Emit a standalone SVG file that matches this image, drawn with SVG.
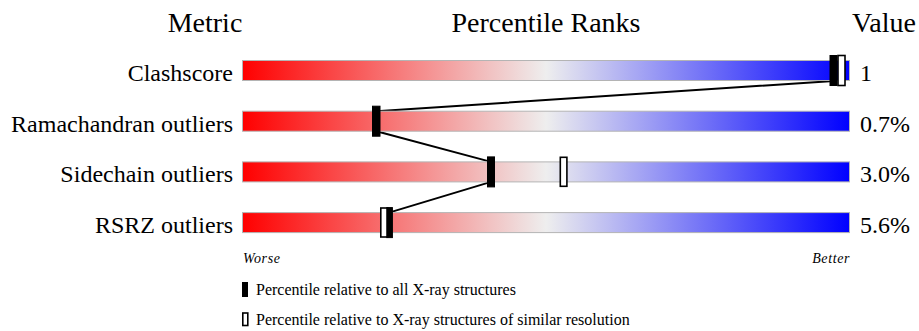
<svg xmlns="http://www.w3.org/2000/svg" width="919" height="331" viewBox="0 0 919 331">
<style>
text{font-family:"Liberation Serif","Times New Roman",serif;fill:#000}
.hd{font-size:28px}
.lb{font-size:24px;text-anchor:end}
.vl{font-size:24px}
.it{font-size:14px;font-style:italic;letter-spacing:0.6px}
.lg{font-size:16px}
.bar{fill:url(#grad);stroke:#b4b4b4;stroke-width:1}
.blk{fill:#000;stroke:#000;stroke-width:1}
.opn{fill:#fff;stroke:#000;stroke-width:1.6}
.ln{stroke:#000;stroke-width:2;fill:none}
</style>
<defs>
<linearGradient id="grad" x1="0" y1="0" x2="1" y2="0">
<stop offset="0" stop-color="#ff0000"/>
<stop offset="0.5" stop-color="#eeeeee"/>
<stop offset="1" stop-color="#0000ff"/>
</linearGradient>
</defs>
<g id="headers">
<text class="hd" x="205" y="32" text-anchor="middle">Metric</text>
<text class="hd" x="546" y="32" text-anchor="middle">Percentile Ranks</text>
<text class="hd" x="884" y="32" text-anchor="middle">Value</text>
</g>
<g id="connectors">
<path class="ln" d="M833.5,81 L376.5,111.2 M376.5,131.2 L491,161.9 M491,181.9 L389,212.6"/>
</g>
<g id="clashscore">
<text class="lb" x="233" y="80.5">Clashscore</text>
<rect class="bar" x="242.5" y="60.5" width="607" height="20"/>
<rect class="opn" x="838" y="55.5" width="7" height="30"/>
<rect class="blk" x="830" y="55.5" width="7" height="30"/>
<text class="vl" x="860" y="80.5">1</text>
</g>
<g id="ramachandran">
<text class="lb" x="233" y="131.5">Ramachandran outliers</text>
<rect class="bar" x="242.5" y="111.2" width="607" height="20"/>
<rect class="blk" x="372.5" y="106.2" width="7.5" height="30"/>
<text class="vl" x="860" y="131.5">0.7%</text>
</g>
<g id="sidechain">
<text class="lb" x="233" y="182">Sidechain outliers</text>
<rect class="bar" x="242.5" y="161.9" width="607" height="20"/>
<rect class="blk" x="487.5" y="156.9" width="7" height="30"/>
<rect class="opn" x="560.3" y="157.3" width="6.6" height="29"/>
<text class="vl" x="860" y="182">3.0%</text>
</g>
<g id="rsrz">
<text class="lb" x="233" y="232.5">RSRZ outliers</text>
<rect class="bar" x="242.5" y="212.6" width="607" height="20"/>
<rect class="opn" x="380.8" y="208" width="7" height="29"/>
<rect class="blk" x="386.8" y="207.6" width="5.6" height="30"/>
<text class="vl" x="860" y="232.5">5.6%</text>
</g>
<g id="axis">
<text class="it" x="243" y="262.5">Worse</text>
<text class="it" x="850" y="262.5" text-anchor="end">Better</text>
</g>
<g id="legend">
<rect class="blk" x="242.5" y="282.5" width="5" height="14"/>
<text class="lg" x="256" y="295">Percentile relative to all X-ray structures</text>
<rect class="opn" x="242.8" y="313" width="5" height="12.5"/>
<text class="lg" x="256" y="324.5">Percentile relative to X-ray structures of similar resolution</text>
</g>
</svg>
